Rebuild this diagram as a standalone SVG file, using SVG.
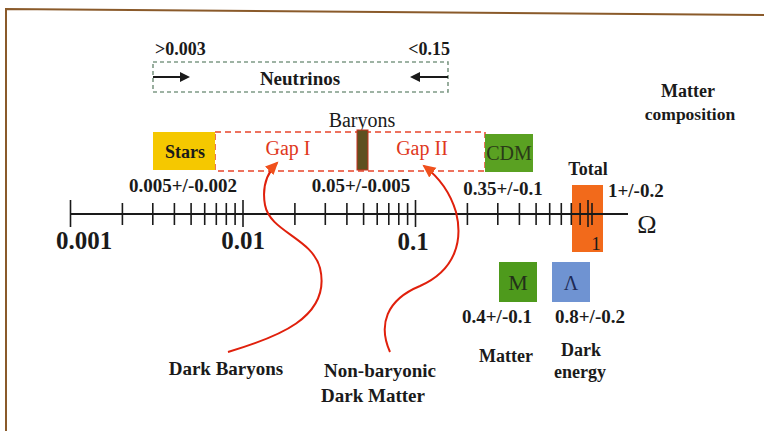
<svg xmlns="http://www.w3.org/2000/svg" width="764" height="431" viewBox="0 0 764 431">
<style>
text{font-family:"Liberation Serif","Times New Roman",serif;fill:#1a1a1a}
.b{font-weight:bold}
.red{fill:#e0381c}
.tick{stroke:#1a1a1a;stroke-width:1.6}
.curve{fill:none;stroke:#e0200c;stroke-width:2}
</style>
<defs>
<marker id="ah" markerWidth="10" markerHeight="10" refX="8" refY="5" orient="auto" markerUnits="userSpaceOnUse"><path d="M0,0 L10,5 L0,10 Z" fill="#1a1a1a"/></marker>
<marker id="rah" markerWidth="14" markerHeight="14" refX="11" refY="7" orient="auto" markerUnits="userSpaceOnUse"><path d="M0,1 L13,7 L0,13 Z" fill="#f0501c"/></marker>
</defs>
<rect width="764" height="431" fill="#ffffff"/>
<!-- frame -->
<path d="M6,431 L6,9 L764,15" fill="none" stroke="#8a5a2a" stroke-width="2"/>

<g id="neutrinos">
<rect x="153" y="62" width="295" height="30" fill="none" stroke="#7f9a86" stroke-width="1.6" stroke-dasharray="4,3"/>
<line x1="153" y1="77" x2="188" y2="77" stroke="#1a1a1a" stroke-width="2" marker-end="url(#ah)"/>
<line x1="448" y1="77" x2="412" y2="77" stroke="#1a1a1a" stroke-width="2" marker-end="url(#ah)"/>
<text x="300" y="85" class="b" font-size="19" text-anchor="middle">Neutrinos</text>
<text x="155" y="55" class="b" font-size="18">&gt;0.003</text>
<text x="450" y="55" class="b" font-size="18" text-anchor="end">&lt;0.15</text>
</g>

<g id="matter-composition">
<text x="688" y="97" class="b" font-size="18" text-anchor="middle">Matter</text>
<text x="690" y="120" class="b" font-size="17.5" text-anchor="middle">composition</text>
</g>

<g id="gaps">
<rect x="215" y="132" width="270" height="39" fill="none" stroke="#e8442a" stroke-width="1.5" stroke-dasharray="6,4"/>
<text x="288" y="155" class="red" font-size="20" text-anchor="middle">Gap I</text>
<text x="422" y="155" class="red" font-size="20" text-anchor="middle">Gap II</text>
</g>

<g id="stars">
<rect x="153" y="132" width="62" height="38" fill="#f5c800"/>
<text x="185" y="158" class="b" font-size="18" text-anchor="middle">Stars</text>
<text x="183" y="192" class="b" font-size="19" text-anchor="middle">0.005+/-0.002</text>
</g>

<g id="baryons">
<text x="362" y="127" font-size="20" text-anchor="middle">Baryons</text>
<rect x="357" y="130" width="11" height="40" fill="#5e5020" stroke="#c8301c" stroke-width="1"/>
<text x="361" y="192" class="b" font-size="19" text-anchor="middle">0.05+/-0.005</text>
</g>

<g id="cdm">
<rect x="485" y="134" width="48" height="38" fill="#5aa122"/>
<text x="509" y="160" font-size="20" text-anchor="middle" style="fill:#2a3a18">CDM</text>
<text x="503" y="195" class="b" font-size="19" text-anchor="middle">0.35+/-0.1</text>
</g>

<g id="total">
<rect x="572" y="185" width="31" height="67" fill="#f26a1b"/>
<text x="588" y="175" class="b" font-size="18" text-anchor="middle">Total</text>
<text x="608" y="197" class="b" font-size="19">1+/-0.2</text>
<text x="596" y="250" font-size="19" text-anchor="middle">1</text>
</g>

<g id="axis">
<line x1="70.5" y1="214" x2="628" y2="214" stroke="#1a1a1a" stroke-width="2"/>
<g class="tick">
<line x1="70.5" y1="200" x2="70.5" y2="227"/>
<line x1="243" y1="200" x2="243" y2="227"/>
<line x1="415.5" y1="200" x2="415.5" y2="227"/>
<line x1="588" y1="200" x2="588" y2="227"/>
<!-- decade 1 -->
<line x1="122.4" y1="203" x2="122.4" y2="225"/>
<line x1="152.8" y1="203" x2="152.8" y2="225"/>
<line x1="174.4" y1="203" x2="174.4" y2="225"/>
<line x1="191.1" y1="203" x2="191.1" y2="225"/>
<line x1="204.7" y1="203" x2="204.7" y2="225"/>
<line x1="216.3" y1="203" x2="216.3" y2="225"/>
<line x1="226.3" y1="203" x2="226.3" y2="225"/>
<line x1="235.1" y1="203" x2="235.1" y2="225"/>
<!-- decade 2 -->
<line x1="294.9" y1="203" x2="294.9" y2="225"/>
<line x1="325.3" y1="203" x2="325.3" y2="225"/>
<line x1="346.9" y1="203" x2="346.9" y2="225"/>
<line x1="363.6" y1="203" x2="363.6" y2="225"/>
<line x1="377.2" y1="203" x2="377.2" y2="225"/>
<line x1="388.8" y1="203" x2="388.8" y2="225"/>
<line x1="398.8" y1="203" x2="398.8" y2="225"/>
<line x1="407.6" y1="203" x2="407.6" y2="225"/>
<!-- decade 3 -->
<line x1="467.4" y1="203" x2="467.4" y2="225"/>
<line x1="497.8" y1="203" x2="497.8" y2="225"/>
<line x1="519.4" y1="203" x2="519.4" y2="225"/>
<line x1="536.1" y1="203" x2="536.1" y2="225"/>
<line x1="549.7" y1="203" x2="549.7" y2="225"/>
<line x1="561.3" y1="203" x2="561.3" y2="225"/>
<line x1="571.3" y1="203" x2="571.3" y2="225"/>
<line x1="580.1" y1="203" x2="580.1" y2="225"/>
<line x1="592" y1="203" x2="592" y2="225"/>
</g>
<text x="84" y="249" class="b" font-size="25" text-anchor="middle">0.001</text>
<text x="243" y="249" class="b" font-size="25" text-anchor="middle">0.01</text>
<text x="413" y="250" class="b" font-size="25" text-anchor="middle">0.1</text>
<text x="647" y="233" font-size="26" text-anchor="middle">Ω</text>
</g>

<g id="matter">
<rect x="499" y="262" width="38" height="40" fill="#4e9a1c"/>
<text x="518" y="290" font-size="22" text-anchor="middle" style="fill:#23301a">M</text>
<text x="497" y="323" class="b" font-size="19" text-anchor="middle">0.4+/-0.1</text>
<text x="506" y="362" class="b" font-size="18" text-anchor="middle">Matter</text>
</g>

<g id="dark-energy">
<rect x="552" y="262" width="38" height="40" fill="#6f93d2"/>
<text x="571" y="290" font-size="20" text-anchor="middle" style="fill:#1d2a55">Λ</text>
<text x="590" y="323" class="b" font-size="19" text-anchor="middle">0.8+/-0.2</text>
<text x="581" y="356" class="b" font-size="18" text-anchor="middle">Dark</text>
<text x="580" y="378" class="b" font-size="18" text-anchor="middle">energy</text>
</g>

<g id="dark-baryons">
<text x="226" y="375" class="b" font-size="19" text-anchor="middle">Dark Baryons</text>
</g>

<g id="non-baryonic">
<text x="380" y="377" class="b" font-size="19" text-anchor="middle">Non-baryonic</text>
<text x="373" y="402" class="b" font-size="19" text-anchor="middle">Dark Matter</text>
</g>

<g id="connectors">
<path class="curve" d="M228,352 C275,338 332,318 320,268 C312,238 270,232 265,205 C262,188 266,174 277,163" marker-end="url(#rah)"/>
<path class="curve" d="M390,352 C378,325 386,300 420,286 C456,270 463,240 456,212 C450,192 440,178 424,166" marker-end="url(#rah)"/>
</g>
</svg>
